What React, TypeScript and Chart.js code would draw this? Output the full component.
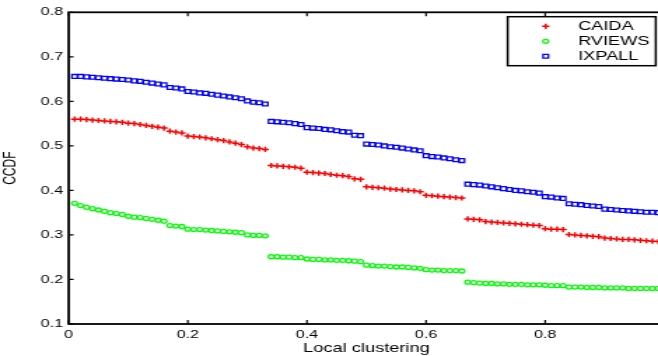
import React, { useEffect, useRef } from "react";
import { Chart, registerables } from "chart.js";

Chart.register(...registerables);

const clustering = [
  0.01, 0.02, 0.03, 0.04, 0.05, 0.06, 0.07, 0.08, 0.09, 0.10, 0.11,
  0.12, 0.13, 0.14, 0.15, 0.16, 0.17, 0.18, 0.19, 0.20, 0.21, 0.22,
  0.23, 0.24, 0.25, 0.26, 0.27, 0.28, 0.29, 0.30, 0.31, 0.32, 0.33,
  0.34, 0.35, 0.36, 0.37, 0.38, 0.39, 0.40, 0.41, 0.42, 0.43, 0.44,
  0.45, 0.46, 0.47, 0.48, 0.49, 0.50, 0.51, 0.52, 0.53, 0.54, 0.55,
  0.56, 0.57, 0.58, 0.59, 0.60, 0.61, 0.62, 0.63, 0.64, 0.65, 0.66,
  0.67, 0.68, 0.69, 0.70, 0.71, 0.72, 0.73, 0.74, 0.75, 0.76, 0.77,
  0.78, 0.79, 0.80, 0.81, 0.82, 0.83, 0.84, 0.85, 0.86, 0.87, 0.88,
  0.89, 0.90, 0.91, 0.92, 0.93, 0.94, 0.95, 0.96, 0.97, 0.98, 0.99,
];

const caida = [
  0.560, 0.560, 0.559, 0.558, 0.557, 0.556, 0.555, 0.554, 0.553, 0.551, 0.550,
  0.548, 0.546, 0.544, 0.542, 0.540, 0.533, 0.531, 0.529, 0.522, 0.521, 0.520,
  0.518, 0.516, 0.514, 0.512, 0.509, 0.506, 0.503, 0.498, 0.495, 0.494, 0.492,
  0.456, 0.455, 0.454, 0.453, 0.452, 0.450, 0.441, 0.440, 0.439, 0.438, 0.436,
  0.434, 0.433, 0.431, 0.426, 0.425, 0.408, 0.407, 0.406, 0.405, 0.403, 0.402,
  0.401, 0.400, 0.399, 0.397, 0.389, 0.388, 0.387, 0.386, 0.385, 0.384, 0.383,
  0.336, 0.335, 0.334, 0.330, 0.329, 0.328, 0.327, 0.326, 0.325, 0.324, 0.323,
  0.322, 0.321, 0.314, 0.313, 0.313, 0.312, 0.301, 0.300, 0.299, 0.298, 0.297,
  0.296, 0.293, 0.292, 0.291, 0.290, 0.290, 0.289, 0.288, 0.287, 0.286, 0.285,
];

const rviews = [
  0.371, 0.366, 0.362, 0.359, 0.356, 0.353, 0.350, 0.348, 0.346, 0.342, 0.340,
  0.339, 0.337, 0.335, 0.333, 0.331, 0.321, 0.320, 0.319, 0.313, 0.312, 0.312,
  0.311, 0.310, 0.309, 0.308, 0.307, 0.306, 0.305, 0.300, 0.299, 0.299, 0.298,
  0.251, 0.251, 0.250, 0.250, 0.249, 0.249, 0.246, 0.245, 0.245, 0.244, 0.244,
  0.243, 0.243, 0.242, 0.241, 0.240, 0.232, 0.231, 0.230, 0.230, 0.229, 0.228,
  0.228, 0.227, 0.226, 0.225, 0.222, 0.221, 0.221, 0.220, 0.220, 0.220, 0.219,
  0.194, 0.193, 0.192, 0.191, 0.191, 0.190, 0.190, 0.189, 0.189, 0.189, 0.188,
  0.188, 0.188, 0.187, 0.186, 0.186, 0.186, 0.183, 0.183, 0.183, 0.182, 0.182,
  0.182, 0.181, 0.181, 0.181, 0.181, 0.180, 0.180, 0.180, 0.180, 0.180, 0.180,
];

const ixpall = [
  0.656, 0.656, 0.655, 0.654, 0.653, 0.652, 0.651, 0.650, 0.649, 0.648, 0.646,
  0.645, 0.643, 0.641, 0.639, 0.637, 0.631, 0.630, 0.628, 0.622, 0.621, 0.619,
  0.618, 0.616, 0.614, 0.612, 0.610, 0.608, 0.606, 0.601, 0.598, 0.597, 0.594,
  0.555, 0.554, 0.553, 0.552, 0.550, 0.548, 0.541, 0.540, 0.539, 0.537, 0.536,
  0.534, 0.532, 0.531, 0.524, 0.523, 0.504, 0.503, 0.502, 0.500, 0.498, 0.497,
  0.495, 0.493, 0.491, 0.489, 0.478, 0.476, 0.475, 0.473, 0.471, 0.469, 0.467,
  0.414, 0.413, 0.412, 0.410, 0.408, 0.406, 0.404, 0.402, 0.400, 0.399, 0.397,
  0.396, 0.394, 0.386, 0.385, 0.383, 0.382, 0.370, 0.369, 0.368, 0.366, 0.365,
  0.364, 0.358, 0.357, 0.356, 0.355, 0.354, 0.353, 0.352, 0.351, 0.351, 0.350,
];

const seriesNames = ["CAIDA", "RVIEWS", "IXPALL"];
const xTickValues = [0, 0.2, 0.4, 0.6, 0.8, 1];
const yTickValues = [0.1, 0.2, 0.3, 0.4, 0.5, 0.6, 0.7, 0.8];

const FONT = "'Liberation Sans', Arial, Helvetica, sans-serif";
const STRETCH = 1.4;
const INNER_W = 480;
const INNER_H = 356;

function toPoints(ys: number[]) {
  return ys.map((v, i) => ({ x: clustering[i], y: v }));
}

const framePlugin = {
  id: "frame",
  afterDatasetsDraw(chart: any) {
    const { ctx, chartArea: a, scales } = chart;
    const x = scales.x;
    const y = scales.y;
    ctx.save();
    ctx.strokeStyle = "#000";
    ctx.lineWidth = 1.2;
    ctx.beginPath();
    x.ticks.forEach((t: any) => {
      const px = x.getPixelForValue(t.value);
      ctx.moveTo(px, a.bottom);
      ctx.lineTo(px, a.bottom - 4);
      ctx.moveTo(px, a.top);
      ctx.lineTo(px, a.top + 4);
    });
    y.ticks.forEach((t: any) => {
      const py = y.getPixelForValue(t.value);
      ctx.moveTo(a.left, py);
      ctx.lineTo(a.left + 3.5, py);
      ctx.moveTo(a.right, py);
      ctx.lineTo(a.right - 3.5, py);
    });
    ctx.stroke();
    ctx.lineWidth = 1.8;
    ctx.strokeRect(a.left, a.top, a.right - a.left, a.bottom - a.top);

    // legend
    const lx = 362.6;
    const ly = 16.7;
    const lw = 105.8;
    const lh = 49;
    ctx.fillStyle = "#fff";
    ctx.fillRect(lx, ly, lw, lh);
    ctx.lineWidth = 1.5;
    ctx.strokeStyle = "#000";
    ctx.strokeRect(lx, ly, lw, lh);
    const rows = [26.3, 41.3, 56.3];
    const mx = 389.8;
    const tx = 412.9;
    chart.data.datasets.forEach((ds: any, i: number) => {
      const ry = rows[i];
      ctx.strokeStyle = ds.pointBorderColor;
      ctx.lineWidth = ds.pointBorderWidth;
      ctx.beginPath();
      if (ds.pointStyle === "cross") {
        const r = ds.pointRadius;
        ctx.moveTo(mx - r, ry);
        ctx.lineTo(mx + r, ry);
        ctx.moveTo(mx, ry - r);
        ctx.lineTo(mx, ry + r);
      } else if (ds.pointStyle === "circle") {
        ctx.arc(mx, ry, ds.pointRadius, 0, Math.PI * 2);
      } else {
        const s = ds.pointRadius / Math.SQRT2;
        ctx.rect(mx - s, ry - s, 2 * s, 2 * s);
      }
      ctx.stroke();
      ctx.fillStyle = "#000";
      ctx.font = `13px ${FONT}`;
      ctx.textAlign = "left";
      ctx.textBaseline = "middle";
      ctx.fillText(ds.label, tx, ry);
    });
    ctx.restore();
  },
};

export default function App() {
  const ref = useRef<HTMLCanvasElement | null>(null);

  useEffect(() => {
    if (!ref.current) return;
    const chart = new Chart(ref.current, {
      type: "scatter",
      data: {
        datasets: [
          {
            label: seriesNames[0],
            data: toPoints(caida),
            pointStyle: "cross",
            pointRadius: 2.6,
            pointBorderWidth: 1.5,
            pointBorderColor: "#ff0000",
            pointBackgroundColor: "#ff0000",
            showLine: false,
          },
          {
            label: seriesNames[1],
            data: toPoints(rviews),
            pointStyle: "circle",
            pointRadius: 2,
            pointBorderWidth: 1.3,
            pointBorderColor: "#00ff00",
            pointBackgroundColor: "rgba(0,0,0,0)",
            showLine: false,
          },
          {
            label: seriesNames[2],
            data: toPoints(ixpall),
            pointStyle: "rect",
            pointRadius: 2.7,
            pointBorderWidth: 1.3,
            pointBorderColor: "#0000ff",
            pointBackgroundColor: "rgba(0,0,0,0)",
            showLine: false,
          },
        ] as any,
      },
      options: {
        animation: false,
        responsive: false,
        devicePixelRatio: 1,
        events: [],
        layout: { padding: { left: 0, right: 4.5, top: 12.3, bottom: 0 } },
        plugins: { legend: { display: false }, tooltip: { enabled: false } },
        scales: {
          x: {
            type: "linear",
            min: 0,
            max: 1,
            grid: { display: false, drawTicks: false },
            border: { display: false },
            afterFit: (s: any) => {
              s.height = 32;
              s.paddingLeft = 0;
              s.paddingRight = 0;
            },
            afterBuildTicks: (s: any) => {
              s.ticks = xTickValues.map((v) => ({ value: v }));
            },
            ticks: {
              padding: 4,
              color: "#000",
              font: { family: FONT, size: 11.5 },
              maxRotation: 0,
              callback: (v: any) => String(Math.round(Number(v) * 10) / 10),
            },
            title: {
              display: true,
              text: "Local clustering",
              color: "#000",
              font: { family: FONT, size: 13 },
              padding: { top: 0, bottom: 0 },
            },
          },
          y: {
            type: "linear",
            min: 0.1,
            max: 0.8,
            grid: { display: false, drawTicks: false },
            border: { display: false },
            afterFit: (s: any) => {
              s.width = 49.07;
              s.paddingTop = 0;
              s.paddingBottom = 0;
            },
            afterBuildTicks: (s: any) => {
              s.ticks = yTickValues.map((v) => ({ value: v }));
            },
            ticks: {
              padding: 4,
              color: "#000",
              font: { family: FONT, size: 11.5 },
              callback: (v: any) => (Math.round(Number(v) * 10) / 10).toFixed(1),
            },
            title: {
              display: true,
              text: "CCDF",
              color: "#000",
              font: { family: FONT, size: 12 },
              padding: { top: 0, bottom: 0 },
            },
          },
        },
      } as any,
      plugins: [framePlugin],
    });
    return () => chart.destroy();
  }, []);

  return (
    <div
      style={{
        position: "absolute",
        left: 0,
        top: 0,
        width: 658,
        height: 356,
        overflow: "hidden",
        background: "#fff",
      }}
    >
      <canvas
        ref={ref}
        width={INNER_W}
        height={INNER_H}
        style={{ width: INNER_W * STRETCH, height: INNER_H, display: "block" }}
      />
    </div>
  );
}
